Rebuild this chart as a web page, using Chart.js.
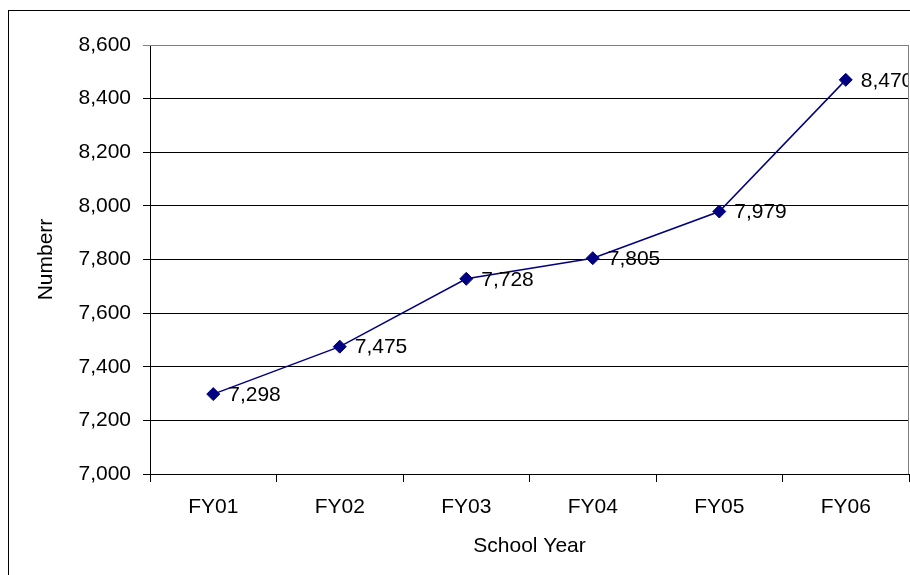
<!DOCTYPE html>
<html>
<head>
<meta charset="utf-8">
<script src="https://cdn.jsdelivr.net/npm/chart.js@4"></script>
<style>
  body { margin: 0; background: #fff; }
  canvas { display: block; }
</style>
</head>
<body>
<canvas id="chart" width="910" height="575"></canvas>
<script>
// data
const years = ['FY01', 'FY02', 'FY03', 'FY04', 'FY05', 'FY06'];
const counts = [7298, 7475, 7728, 7805, 7979, 8470];
const yMin = 7000;
const yMax = 8600;
const yStep = 200;

const FONT = '"Liberation Sans", Arial, sans-serif';
const FS = 21;

// outer frame + grey plot border (top and right)
const framePlugin = {
  id: 'frame',
  beforeDraw(chart) {
    const ctx = chart.ctx;
    ctx.save();
    ctx.strokeStyle = '#000';
    ctx.lineWidth = 1;
    ctx.strokeRect(8.5, 10.5, 1000, 1000);
    ctx.restore();
  },
  afterDraw(chart) {
    const { ctx, chartArea: a } = chart;
    ctx.save();
    ctx.strokeStyle = '#808080';
    ctx.lineWidth = 1;
    ctx.beginPath();
    ctx.moveTo(a.left, Math.round(a.top) + 0.5);
    ctx.lineTo(Math.round(a.right) - 0.5, Math.round(a.top) + 0.5);
    ctx.lineTo(Math.round(a.right) - 0.5, a.bottom);
    ctx.stroke();
    ctx.restore();
  }
};

// value labels to the right of each marker
const valueLabels = {
  id: 'valueLabels',
  afterDatasetsDraw(chart) {
    const ctx = chart.ctx;
    const a = chart.chartArea;
    const meta = chart.getDatasetMeta(0);
    ctx.save();
    ctx.beginPath();
    ctx.rect(0, 0, a.right - 1, chart.height);
    ctx.clip();
    ctx.font = FS + 'px ' + FONT;
    ctx.fillStyle = '#000';
    ctx.textBaseline = 'middle';
    ctx.textAlign = 'left';
    meta.data.forEach((pt, i) => {
      ctx.fillText(counts[i].toLocaleString('en-US'), pt.x + 15, pt.y + 1);
    });
    ctx.restore();
  }
};

new Chart(document.getElementById('chart'), {
  type: 'line',
  data: {
    labels: years,
    datasets: [{
      data: counts,
      borderColor: '#000080',
      backgroundColor: '#000080',
      borderWidth: 1.5,
      pointStyle: 'rectRot',
      pointRadius: 6.5,
      pointBorderWidth: 1,
      pointBorderColor: '#000080',
      pointBackgroundColor: '#000080',
      tension: 0,
      clip: false
    }]
  },
  options: {
    responsive: false,
    animation: false,
    layout: { autoPadding: false, padding: { top: 45, right: 1, left: 0, bottom: 0 } },
    plugins: {
      legend: { display: false },
      tooltip: { enabled: false }
    },
    scales: {
      x: {
        offset: true,
        afterFit(scale) {
          scale.height = 101;
          scale.paddingLeft = 0;
          scale.paddingRight = 0;
        },
        grid: {
          offset: true,
          drawOnChartArea: false,
          drawTicks: true,
          tickLength: 8,
          color: '#000'
        },
        border: { color: '#000', width: 1 },
        ticks: {
          color: '#000',
          font: { family: FONT, size: FS },
          padding: 13
        },
        title: {
          display: true,
          text: 'School Year',
          color: '#000',
          font: { family: FONT, size: FS },
          padding: { top: 0, bottom: 16 }
        }
      },
      y: {
        min: yMin,
        max: yMax,
        afterFit(scale) { scale.width = 150; },
        grid: {
          color: ctx => (ctx.tick && ctx.tick.value === yMax ? '#808080' : '#000'),
          drawTicks: true,
          tickLength: 7
        },
        border: { color: '#000', width: 1 },
        ticks: {
          stepSize: yStep,
          color: '#000',
          font: { family: FONT, size: FS },
          padding: 12,
          callback: v => v.toLocaleString('en-US')
        },
        title: {
          display: true,
          text: 'Numberr',
          color: '#000',
          font: { family: FONT, size: FS },
          padding: { top: 34, bottom: 0 }
        }
      }
    }
  },
  plugins: [framePlugin, valueLabels]
});
</script>
</body>
</html>
